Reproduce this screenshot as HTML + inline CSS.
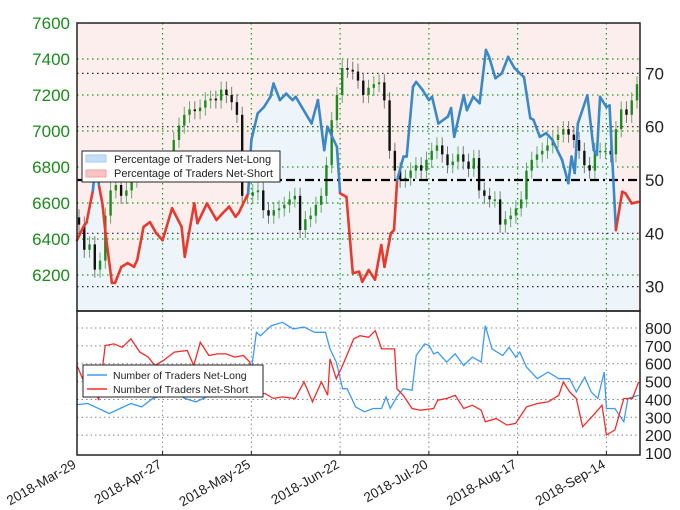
<!DOCTYPE html>
<html><head><meta charset="utf-8"><style>
body{margin:0;background:#fff;}
svg{display:block;font-family:"Liberation Sans","DejaVu Sans",sans-serif;}
</style></head><body>
<svg id="c" width="680" height="510" viewBox="0 0 680 510"></svg>
<script>
const tickDates=["2018-Mar-29","2018-Apr-27","2018-May-25","2018-Jun-22","2018-Jul-20","2018-Aug-17","2018-Sep-14"];
const tickDays=[-2,27,55,83,111,139,167];
const priceTicks=[7600,7400,7200,7000,6800,6600,6400,6200];
const pctTicks=[70,60,50,40,30];
const countTicks=[800,700,600,500,400,300,200,100];
const closes=[6480,6340,6370,6230,6280,6530,6670,6700,6640,6670,6730,6810,6780,6810,6790,6810,6760,6810,6950,7030,7090,7120,7110,7130,7170,7180,7170,7230,7200,7160,7090,6640,6640,6660,6670,6560,6530,6560,6570,6590,6620,6640,6450,6510,6530,6590,6640,6810,7060,7200,7350,7340,7330,7280,7200,7240,7260,7270,7170,6890,6780,6730,6740,6780,6810,6780,6840,6890,6920,6870,6810,6830,6870,6830,6790,6850,6670,6640,6620,6620,6480,6510,6530,6570,6620,6780,6840,6870,6890,6920,6950,6980,7010,6980,6950,6890,6810,6780,6890,6890,6890,6870,7010,7120,7090,7170,7260];
const pctDays=[0,2,3,4,5,6,7,8,9,11,12,14,16,18,19,21,23,25,27,30,33,34,37,38,41,44,46,48,50,51,54,55,57,59,61,62,64,66,68,69,74,76,78,79,82,83,85,87,89,90,92,94,96,97,99,100,101,103,104,106,107,109,111,112,114,117,118,119,122,123,125,127,129,130,132,134,136,138,141,143,144,146,148,150,152,153,155,156,157,158,161,163,164,165,167,168,170,172,173,175,177];
const pctLong=[38.7,41.2,42,45,48,53.8,48.7,45.6,40,30.7,30.7,33.7,34.4,33.7,35,41.2,42.1,40,38.7,44.7,41.2,35.6,45.6,41.9,45.6,42.5,43.8,45,43.1,43.8,47.5,57.5,62.5,63.7,65.6,68.1,65,66.2,65,65.6,60.6,65,55.6,60,56.2,47.5,46.8,32.5,32.8,30.9,33.1,31.3,37.8,33.7,40,40.6,50,54.4,54.4,67.5,68.4,66.9,65,65.6,60.6,61.9,63.5,58.1,65.9,63.1,65.6,64.4,74.4,73.1,69.1,70,73.1,71,69.3,61.6,61.3,58.1,58.8,57.5,55,53.8,49.4,54.4,51.3,60.6,65.9,55.6,54.7,65.6,63.7,64,40.6,47.8,47.5,45.6,45.9];
const longDays=[0,3.4,10.2,13.6,17,20.4,23.9,27.3,30.7,34.1,37.5,40.9,44.3,47.7,51.1,54.5,56.6,57.9,61.3,64.8,68.2,71.6,75,78.4,79.8,81.8,83.8,85.2,87.9,90.7,93.4,96.1,97.5,98.8,100.9,102.9,105.7,107,109.7,111.1,112.5,113.8,116.6,119.3,122,124.7,127.5,128.8,130.9,134.3,136.3,138.4,139.7,141.8,145.2,148.6,152,155.4,157.5,160.2,162.2,164.3,166.3,167,169.7,172.5,173.8,177.2];
const longCounts=[371,377,321,349,377,358,405,423,442,405,386,414,442,432,460,498,776,757,813,832,795,805,776,776,683,609,460,460,358,331,349,349,414,349,414,460,451,646,711,702,655,665,609,655,590,637,609,813,683,646,692,637,665,581,516,553,516,516,442,525,442,405,553,349,349,275,405,423];
const shortDays=[0,2,4.8,6.8,8.9,11.6,14.3,17,19.8,22.5,24.5,27.3,30.7,34.8,36.8,38.9,41.6,44.3,47,49.8,52.5,54.5,56.6,59.3,62,64.8,68.8,71.6,74.3,77.1,79.1,79.8,81.8,83.8,87.3,89.3,92,94.1,96.1,100.2,100.9,102.9,105.7,108.4,112.5,113.8,116.6,119.3,122,124.7,127.5,128.8,132.2,135.6,138.4,141.8,145.2,148.6,152,153.4,155.4,157.5,159.5,162.9,165.6,167,169.7,172.5,175.2,177.2];
const shortCounts=[590,507,525,396,702,711,692,739,665,637,590,618,665,674,590,720,646,655,655,637,646,609,433,433,405,414,405,498,386,498,423,627,516,590,739,757,748,785,683,683,460,423,349,340,349,396,405,423,349,368,340,275,293,257,266,358,377,386,423,498,442,405,247,312,368,201,229,405,405,498];

const NS='http://www.w3.org/2000/svg',svg=document.getElementById('c');
const L=77,R=640,T1=23,B1=311,B2=455;
const xDay=d=>L+d*3.17;
const yPrice=p=>T1+(7600-p)*0.18;
const yPct=v=>180-(v-50)*5.33;
const yCnt=v=>328+(800-v)*0.1786;
function el(tag,attrs,parent){const e=document.createElementNS(NS,tag);for(const k in attrs)e.setAttribute(k,attrs[k]);(parent||svg).appendChild(e);return e;}
function txt(s,attrs,parent){const e=el('text',attrs,parent);e.textContent=s;return e;}

// top panel background
const bg=el('rect',{x:L,y:T1,width:R-L,height:B1-T1,fill:'#fdeeee'});


let area='M'+xDay(pctDays[0])+','+B1;
pctDays.forEach((d,i)=>{area+=' L'+xDay(d).toFixed(1)+','+yPct(pctLong[i]).toFixed(1);});
area+=' L'+xDay(pctDays[pctDays.length-1])+','+B1+' L'+R+','+B1+' Z';
const fa=el('path',{d:area,fill:'#eef5fa'});



// top grid
priceTicks.slice(1).forEach(p=>{const g=el('line',{x1:L,x2:R,y1:yPrice(p),y2:yPrice(p),stroke:'#1a9a1a','stroke-width':1.2,'stroke-dasharray':'1.5,3.5'});

});
pctTicks.filter(v=>v!==50).forEach(v=>{const g=el('line',{x1:L,x2:R,y1:yPct(v),y2:yPct(v),stroke:'#222','stroke-width':1.2,'stroke-dasharray':'1.5,3.5'});

});
tickDays.slice(1).forEach(d=>{const g=el('line',{x1:xDay(d),x2:xDay(d),y1:T1,y2:B1,stroke:'#1a9a1a','stroke-width':1.2,'stroke-dasharray':'1.5,3.5'});

});

// candles
const n=closes.length,step=(637-79)/(n-1);
closes.forEach((c,i)=>{
 const o=i?closes[i-1]:c+40, x=79+i*step, up=c>=o;
 const col=up?'#1f8a1f':'#111';
 const hi=Math.max(o,c)+45,lo=Math.min(o,c)-45;
 const w=el('line',{x1:x,x2:x,y1:yPrice(hi),y2:yPrice(lo),stroke:up?'#6aa86a':'#777','stroke-width':1});
 
 
 const y1=yPrice(Math.max(o,c)),h=Math.max(1.5,yPrice(Math.min(o,c))-y1);
 const b=el('rect',{x:x-1.2,y:y1,width:2.4,height:h,fill:col});
 
 
});

// 50 line
const fl=el('line',{x1:L,x2:R,y1:yPct(50),y2:yPct(50),stroke:'#000','stroke-width':2.2,'stroke-dasharray':'9,4,2,4'});



// pct line segments
for(let i=1;i<pctDays.length;i++){
 const a=pctLong[i-1],b=pctLong[i];
 const s=el('line',{x1:xDay(pctDays[i-1]),y1:yPct(a),x2:xDay(pctDays[i]),y2:yPct(b),stroke:(a+b)/2<50?'#e8392c':'#3b88c6','stroke-width':2.6,'stroke-linecap':'round'});
 
 
}
const fr=el('rect',{x:L,y:T1,width:R-L,height:B1-T1,fill:'none',stroke:'#222','stroke-width':1.5});



// top axes labels
priceTicks.forEach(p=>{const t=txt(p,{x:70,y:yPrice(p)+6,'text-anchor':'end','font-size':17,fill:'#1a8c1a'});

});
pctTicks.forEach(v=>{const t=txt(v,{x:645,y:yPct(v)+6,'font-size':17,fill:'#222'});

});

// top legend
const lg=el('g',{});


el('rect',{x:82,y:151,width:198,height:31,fill:'#fff',stroke:'#222','stroke-width':1},lg);
el('rect',{x:86,y:155,width:20,height:7,fill:'#c6def5',stroke:'#a9cdee'},lg);
el('rect',{x:86,y:170,width:20,height:7,fill:'#f8c3c3',stroke:'#f0a0a0'},lg);
txt('Percentage of Traders Net-Long',{x:114,y:163,'font-size':11,fill:'#222'},lg);
txt('Percentage of Traders Net-Short',{x:114,y:177,'font-size':11,fill:'#222'},lg);

// bottom panel
countTicks.slice(0,7).forEach(v=>{const g=el('line',{x1:L,x2:R,y1:yCnt(v),y2:yCnt(v),stroke:'#888','stroke-width':1,'stroke-dasharray':'1.5,3'});

});
tickDays.slice(1).forEach(d=>{const g=el('line',{x1:xDay(d),x2:xDay(d),y1:B1,y2:B2,stroke:'#888','stroke-width':1,'stroke-dasharray':'1.5,3'});

});
function poly(days,vals,col,name){let d='';days.forEach((x,i)=>{d+=(i?' L':'M')+xDay(x).toFixed(1)+','+yCnt(vals[i]).toFixed(1);});
 const p=el('path',{d:d,fill:'none',stroke:col,'stroke-width':1.3});
 
 }
poly(longDays,longCounts,'#3e9bf5','net-long-count-line');
poly(shortDays,shortCounts,'#f52a2a','net-short-count-line');
const fr2=el('rect',{x:L,y:B1,width:R-L,height:B2-B1,fill:'none',stroke:'#222','stroke-width':1.5});


countTicks.forEach(v=>{const t=txt(v,{x:645,y:yCnt(v)+6,'font-size':16,fill:'#222'});

});
const lg2=el('g',{});


el('rect',{x:83,y:365,width:180,height:32,fill:'#fff',stroke:'#222','stroke-width':1},lg2);
el('line',{x1:87,x2:107,y1:375,y2:375,stroke:'#3e9bf5','stroke-width':1.5},lg2);
el('line',{x1:87,x2:107,y1:389,y2:389,stroke:'#f52a2a','stroke-width':1.5},lg2);
txt('Number of Traders Net-Long',{x:113,y:379,'font-size':10.5,fill:'#222'},lg2);
txt('Number of Traders Net-Short',{x:113,y:393,'font-size':10.5,fill:'#222'},lg2);

// x tick labels
tickDates.forEach((s,i)=>{const x=Math.max(L,xDay(tickDays[i]));
 const tk=el('line',{x1:x,x2:x,y1:B2,y2:B2-4,stroke:'#222'});
 
 
 const t=txt(s,{x:x,y:B2+12,'text-anchor':'end','font-size':13.5,fill:'#222',transform:'rotate(-30 '+x+' '+(B2+12)+')'});
 
 });
</script>
</body></html>
